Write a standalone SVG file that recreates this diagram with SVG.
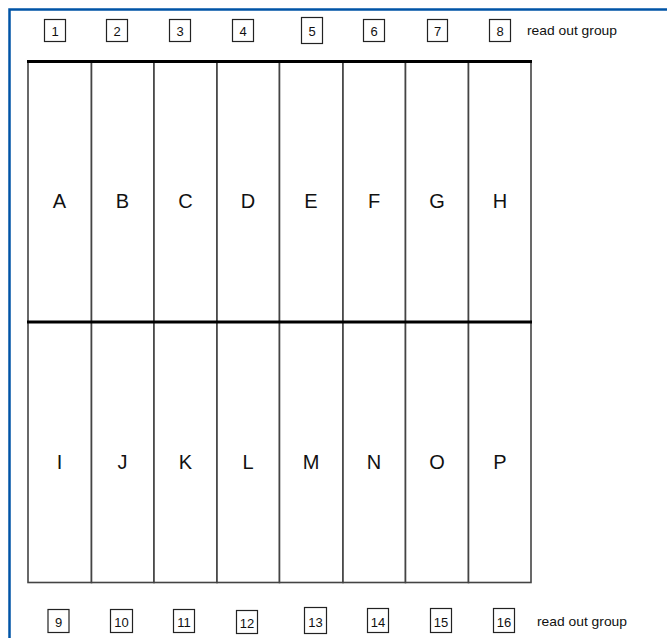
<svg xmlns="http://www.w3.org/2000/svg" width="667" height="638" viewBox="0 0 667 638">
<style>
.frame{fill:none;stroke:#0054a6;stroke-width:2.5}
.cell{fill:#fff;stroke:#444;stroke-width:1.6}
.thick{stroke:#000;stroke-width:3}
.box{fill:#fff;stroke:#222;stroke-width:1.2}
.num{font-family:"Liberation Sans",Arial,sans-serif;font-size:13px;fill:#111;text-anchor:middle}
.lbl{font-family:"Liberation Sans",Arial,sans-serif;font-size:20px;fill:#111;text-anchor:middle}
.ro{font-family:"Liberation Sans",Arial,sans-serif;font-size:13px;fill:#111}
</style>
<rect width="667" height="638" fill="#fff"/>
<path class="frame" d="M9.5,640 V9.5 H668"/>
<g id="cells">
<g id="A"><rect class="cell" x="28" y="61" width="63.5" height="261"/><text class="lbl" x="59.5" y="208">A</text></g>
<g id="B"><rect class="cell" x="91.5" y="61" width="62.5" height="261"/><text class="lbl" x="122.5" y="208">B</text></g>
<g id="C"><rect class="cell" x="154" y="61" width="63" height="261"/><text class="lbl" x="185.5" y="208">C</text></g>
<g id="D"><rect class="cell" x="217" y="61" width="62.5" height="261"/><text class="lbl" x="248" y="208">D</text></g>
<g id="E"><rect class="cell" x="279.5" y="61" width="63.5" height="261"/><text class="lbl" x="311" y="208">E</text></g>
<g id="F"><rect class="cell" x="343" y="61" width="62.5" height="261"/><text class="lbl" x="374" y="208">F</text></g>
<g id="G"><rect class="cell" x="405.5" y="61" width="63" height="261"/><text class="lbl" x="437" y="208">G</text></g>
<g id="H"><rect class="cell" x="468.5" y="61" width="62.5" height="261"/><text class="lbl" x="500" y="208">H</text></g>
<g id="I"><rect class="cell" x="28" y="322" width="63.5" height="260.5"/><text class="lbl" x="59.5" y="469">I</text></g>
<g id="J"><rect class="cell" x="91.5" y="322" width="62.5" height="260.5"/><text class="lbl" x="122.5" y="469">J</text></g>
<g id="K"><rect class="cell" x="154" y="322" width="63" height="260.5"/><text class="lbl" x="185.5" y="469">K</text></g>
<g id="L"><rect class="cell" x="217" y="322" width="62.5" height="260.5"/><text class="lbl" x="248" y="469">L</text></g>
<g id="M"><rect class="cell" x="279.5" y="322" width="63.5" height="260.5"/><text class="lbl" x="311" y="469">M</text></g>
<g id="N"><rect class="cell" x="343" y="322" width="62.5" height="260.5"/><text class="lbl" x="374" y="469">N</text></g>
<g id="O"><rect class="cell" x="405.5" y="322" width="63" height="260.5"/><text class="lbl" x="437" y="469">O</text></g>
<g id="P"><rect class="cell" x="468.5" y="322" width="62.5" height="260.5"/><text class="lbl" x="500" y="469">P</text></g>
</g>
<g id="dividers">
<line class="thick" x1="27" y1="61.5" x2="532" y2="61.5"/>
<line class="thick" x1="27" y1="322" x2="532" y2="322"/>
</g>
<g id="top-readout">
<g id="r1"><rect class="box" x="44.5" y="19.5" width="21" height="22"/><text class="num" x="55" y="35.5">1</text></g>
<g id="r2"><rect class="box" x="106.5" y="19.5" width="21" height="22"/><text class="num" x="117" y="35.5">2</text></g>
<g id="r3"><rect class="box" x="169.5" y="19.5" width="21" height="22"/><text class="num" x="180" y="35.5">3</text></g>
<g id="r4"><rect class="box" x="232.5" y="19.5" width="21" height="22"/><text class="num" x="243" y="35.5">4</text></g>
<g id="r5"><rect class="box" x="301.5" y="17.5" width="21" height="26"/><text class="num" x="312" y="35.5">5</text></g>
<g id="r6"><rect class="box" x="363.5" y="19.5" width="21" height="22"/><text class="num" x="374" y="35.5">6</text></g>
<g id="r7"><rect class="box" x="427.5" y="19.5" width="20" height="22"/><text class="num" x="437.5" y="35.5">7</text></g>
<g id="r8"><rect class="box" x="489.5" y="19.5" width="21" height="22"/><text class="num" x="500" y="35.5">8</text></g>
<text class="ro" x="527" y="35" textLength="90" lengthAdjust="spacingAndGlyphs">read out group</text>
</g>
<g id="bottom-readout">
<g id="r9"><rect class="box" x="48" y="609.5" width="21" height="23"/><text class="num" x="58.5" y="626.5">9</text></g>
<g id="r10"><rect class="box" x="110.5" y="609.5" width="22" height="23"/><text class="num" x="121.5" y="626.5">10</text></g>
<g id="r11"><rect class="box" x="173.5" y="609.5" width="21" height="23"/><text class="num" x="184" y="626.5">11</text></g>
<g id="r12"><rect class="box" x="236.5" y="610.5" width="21" height="23"/><text class="num" x="247" y="627.5">12</text></g>
<g id="r13"><rect class="box" x="304.5" y="607.5" width="22" height="26"/><text class="num" x="315.5" y="626.5">13</text></g>
<g id="r14"><rect class="box" x="367.5" y="608.5" width="21" height="24"/><text class="num" x="378" y="626.5">14</text></g>
<g id="r15"><rect class="box" x="430.5" y="608.5" width="21" height="24"/><text class="num" x="441" y="626.5">15</text></g>
<g id="r16"><rect class="box" x="493.5" y="608.5" width="21" height="24"/><text class="num" x="504" y="626.5">16</text></g>
<text class="ro" x="537" y="626" textLength="90" lengthAdjust="spacingAndGlyphs">read out group</text>
</g>
</svg>
